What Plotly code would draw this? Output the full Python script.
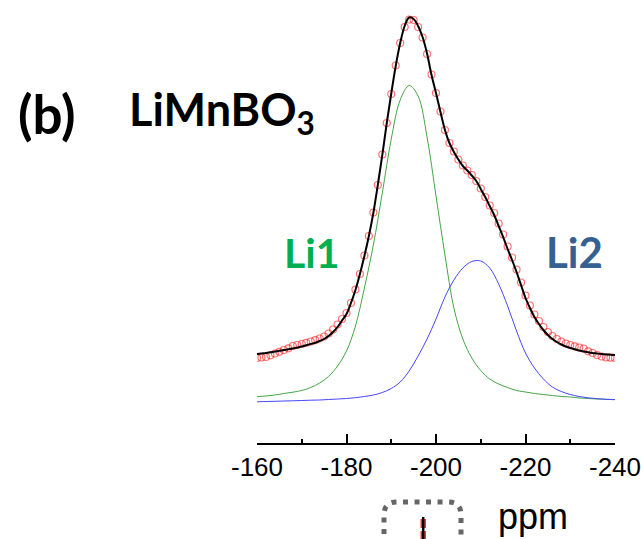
import plotly.graph_objects as go

# ---------------- data ----------------
# chemical shift grids (ppm)
ppm_1 = list(range(-160, -241, -1))   # 1 ppm steps: experimental points and total fit
ppm_2 = list(range(-160, -241, -2))   # 2 ppm steps: component lines

# experimental spectrum (red open circles), intensity a.u.
experiment = [85, 85.5, 86, 87.7, 89.5, 91.2, 93, 94.7, 97, 98,
              99, 100.2, 101.5, 102.8, 104.5, 106.5, 109.5, 113.5, 118.5, 124,
              130, 140, 153.5, 169, 187.5, 207, 230.5, 258, 288.5, 320,
              349, 377.5, 400, 416, 423.5, 423, 416, 405.5, 389, 368.5,
              350, 331.5, 313, 300, 291.5, 283.5, 277.5, 272.5, 268, 262,
              254.5, 246, 237.5, 230, 219.5, 208.5, 196.5, 185.5, 173.5, 160.5,
              147.5, 137.5, 128.5, 122, 116, 111, 107, 104, 101.5, 99.5,
              98, 96.7, 95.5, 94.5, 91.7, 90, 88, 86.5, 85.6, 85.3, 85]

# total fit (black line)
total_fit = [89, 89.5, 90, 90.7, 91.5, 92.2, 93, 93.7, 94.5, 95.5,
             96.5, 97.7, 99, 100.3, 102, 104, 107, 111, 116, 122.5,
             129, 140, 153, 169, 187, 207, 230, 258, 288, 320,
             349.5, 377, 400, 417, 425.5, 424, 417, 406, 389.5, 368,
             350, 331, 313, 300, 291, 283.5, 277, 272.5, 267.5, 262,
             254, 246, 237, 228, 217, 206, 194, 183, 171, 158,
             145, 135, 126, 119, 113, 108, 104, 101, 98.5, 96.5,
             95, 93.7, 92.5, 91.5, 90.7, 90, 89.5, 89, 88.6, 88.3, 88]

# Li1 component (green)
li1 = [46.3, 47, 48, 49.5, 50.8, 52.5, 55.5, 60, 66.5, 77,
       92, 117, 155, 198, 250, 304, 343, 357.5, 347, 306,
       247, 188, 135, 104, 85, 72.5, 64, 59, 55.5, 52.5,
       51, 49.5, 48.5, 47.5, 46.5, 46, 45, 44.5, 44, 43.7, 43.5]

# Li2 component (blue)
li2 = [41.2, 41.5, 41.7, 42, 42.2, 42.5, 42.8, 43, 43.5, 44,
       44.5, 45.3, 46.5, 48, 50.5, 54.5, 61, 72, 87, 104,
       124, 146, 163, 175, 181.5, 182, 175, 159, 137, 112,
       90, 75, 64, 56, 51.5, 48.5, 46.5, 45.2, 44.3, 43.7, 43.3]

major_ticks = [-160, -180, -200, -220, -240]
major_labels = ["-160", "-180", "-200", "-220", "-240"]
minor_ticks = [-170, -190, -210, -230]

# ---------------- layout helpers (pixel -> paper) ----------------
L, R, T, B = 257, 615, 5, 443
W, H = 641, 539


def px(x):
    return (x - L) / (R - L)


def py(y):
    return (B - y) / (B - T)


fig = go.Figure()

fig.add_trace(go.Scatter(
    x=ppm_2, y=li1, mode="lines", line=dict(color="rgb(70,165,70)", width=1, shape="spline"),
    hoverinfo="skip"))
fig.add_trace(go.Scatter(
    x=ppm_2, y=li2, mode="lines", line=dict(color="rgb(70,70,255)", width=1, shape="spline"),
    hoverinfo="skip"))
fig.add_trace(go.Scatter(
    x=ppm_1, y=experiment, mode="markers",
    marker=dict(symbol="circle-open", size=7, color="rgba(255,0,0,0.55)", line=dict(width=1.2)),
    hoverinfo="skip"))
fig.add_trace(go.Scatter(
    x=ppm_1, y=total_fit, mode="lines", line=dict(color="black", width=2, shape="spline"),
    hoverinfo="skip"))

fig.update_xaxes(
    range=[-160, -240], showgrid=False, zeroline=False, automargin=False,
    showline=True, linecolor="black", linewidth=2,
    tickmode="array", tickvals=major_ticks, ticktext=major_labels,
    ticks="inside", ticklen=9, tickwidth=1.5, tickcolor="black",
    minor=dict(tickmode="array", tickvals=minor_ticks, ticks="inside", ticklen=4,
               tickwidth=1.5, tickcolor="black", showgrid=False),
    tickfont=dict(family="Liberation Sans Narrow, Arial Narrow, Liberation Sans, Arial", size=26, color="black"),
    ticklabelstandoff=0,
    ticklabeloverflow="allow",
)
fig.update_yaxes(range=[0, B - T], visible=False, showgrid=False, zeroline=False, automargin=False)

title_font = "Lato, Carlito, Calibri, Open Sans, sans-serif"
annotations = [
    dict(text="<b>(b)</b>", x=px(16), y=py(114), xanchor="left", yanchor="middle",
         font=dict(family=title_font, size=53, color="black")),
    dict(text="<b>LiMnBO<sub>3</sub></b>", x=px(127), y=py(112), xanchor="left", yanchor="middle",
         font=dict(family=title_font, size=45, color="black")),
    dict(text="<b>Li1</b>", x=px(312), y=py(252), xanchor="center", yanchor="middle",
         font=dict(family=title_font, size=41, color="#00B050")),
    dict(text="<b>Li2</b>", x=px(574), y=py(252), xanchor="center", yanchor="middle",
         font=dict(family=title_font, size=42, color="#376092")),
    dict(text="ppm", x=px(496), y=py(516), xanchor="left", yanchor="middle",
         font=dict(family="Liberation Sans, Arial", size=36, color="black")),
]
for a in annotations:
    a.update(xref="paper", yref="paper", showarrow=False)
fig.update_layout(annotations=annotations)

# dotted rounded box at the bottom (partly cut off by the frame edge)
x0, x1, y0, y1, r = 384, 461, 502, 580, 13
path = (f"M {px(x0)},{py(y1)} L {px(x0)},{py(y0 + r)} "
        f"Q {px(x0)},{py(y0)} {px(x0 + r)},{py(y0)} "
        f"L {px(x1 - r)},{py(y0)} Q {px(x1)},{py(y0)} {px(x1)},{py(y0 + r)} "
        f"L {px(x1)},{py(y1)}")
shapes = [
    dict(type="path", path=path, line=dict(color="#666666", width=5, dash="5px,6.5px")),
    dict(type="rect", x0=px(420.5), x1=px(426), y0=py(528), y1=py(519),
         fillcolor="rgba(255,0,0,0.8)", line=dict(width=0)),
    dict(type="rect", x0=px(420.5), x1=px(426), y0=py(545), y1=py(531),
         fillcolor="rgba(255,0,0,0.8)", line=dict(width=0)),
    dict(type="line", x0=px(423.2), x1=px(423.2), y0=py(545), y1=py(517),
         line=dict(color="black", width=2.5)),
]
for s in shapes:
    s.update(xref="paper", yref="paper", layer="above")
fig.update_layout(shapes=shapes)

fig.update_layout(
    width=W, height=H, autosize=False,
    margin=dict(l=L, r=W - R, t=T, b=H - B, pad=0, autoexpand=False),
    plot_bgcolor="white", paper_bgcolor="white",
    showlegend=False,
)

fig.write_html("out.html", config={"displayModeBar": False, "responsive": False},
               post_script="document.body.style.margin='0';")
